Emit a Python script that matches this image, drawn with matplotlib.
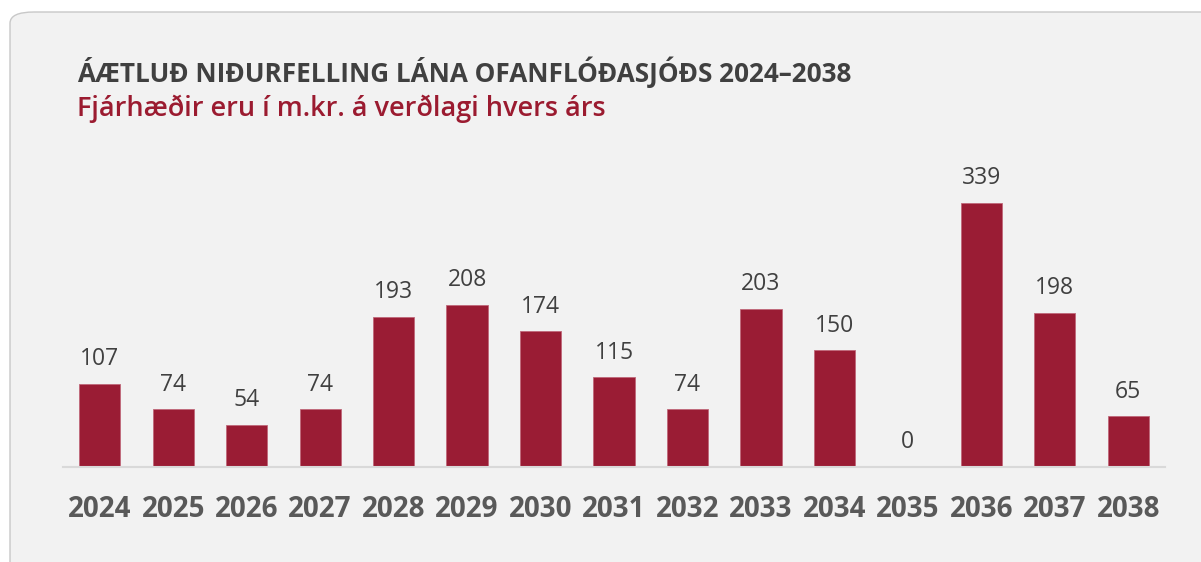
import matplotlib
matplotlib.use("Agg")
import matplotlib.pyplot as plt
from matplotlib.patches import FancyBboxPatch

years = ["2024", "2025", "2026", "2027", "2028", "2029", "2030", "2031",
         "2032", "2033", "2034", "2035", "2036", "2037", "2038"]
values = [107, 74, 54, 74, 193, 208, 174, 115, 74, 203, 150, 0, 339, 198, 65]

title = "ÁÆTLUÐ NIÐURFELLING LÁNA OFANFLÓÐASJÓÐS 2024–2038"
subtitle = "Fjárhæðir eru í m.kr. á verðlagi hvers árs"

BAR = "#9a1c34"
W, H = 1201, 562
fig = plt.figure(figsize=(W / 100, H / 100), dpi=100)
fig.patch.set_facecolor("white")

panel = FancyBboxPatch((10 / W, -0.1), 1.2, (H - 12) / H + 0.1,
                       boxstyle="round,pad=0,rounding_size=0.02",
                       transform=fig.transFigure, facecolor="#f2f2f2",
                       edgecolor="#c8c8c8", linewidth=1.0, zorder=-10)
fig.patches.append(panel)

ax = fig.add_axes([63 / W, 95 / H, (1165 - 63) / W, (467 - 150) / H])
ax.set_zorder(5)
ax.set_facecolor("none")
x = list(range(len(years)))
bars = ax.bar(x, values, width=0.56, color=BAR, edgecolor="#c0687a", linewidth=0.6, zorder=2)
for xi, v in zip(x, values):
    ax.annotate(str(v), (xi, v), xytext=(0, 9), textcoords="offset points",
                ha="center", va="bottom", fontsize=16.5, color="#404040",
                family="Open Sans")
ax.set_xlim(-0.5, len(years) - 0.5)
ax.set_ylim(0, 407)
ax.set_xticks(x)
ax.set_xticklabels(years, fontsize=20, fontweight="bold", color="#595959", family="Open Sans")
ax.tick_params(axis="x", length=0, pad=20)
ax.set_yticks([])
for s in ["top", "right", "left"]:
    ax.spines[s].set_visible(False)
ax.spines["bottom"].set_color("#d9d9d9")
ax.spines["bottom"].set_linewidth(1.5)

fig.text(77 / W, 1 - 72 / H, title, fontsize=18.8, fontweight="bold", color="#404040",
         family="Open Sans", ha="left", va="center")
fig.text(77 / W, 1 - 109 / H, subtitle, fontsize=19.5, fontweight="semibold", color="#9b1b30",
         family="Open Sans", ha="left", va="center")

fig.savefig("out.png", dpi=100, facecolor="white")
